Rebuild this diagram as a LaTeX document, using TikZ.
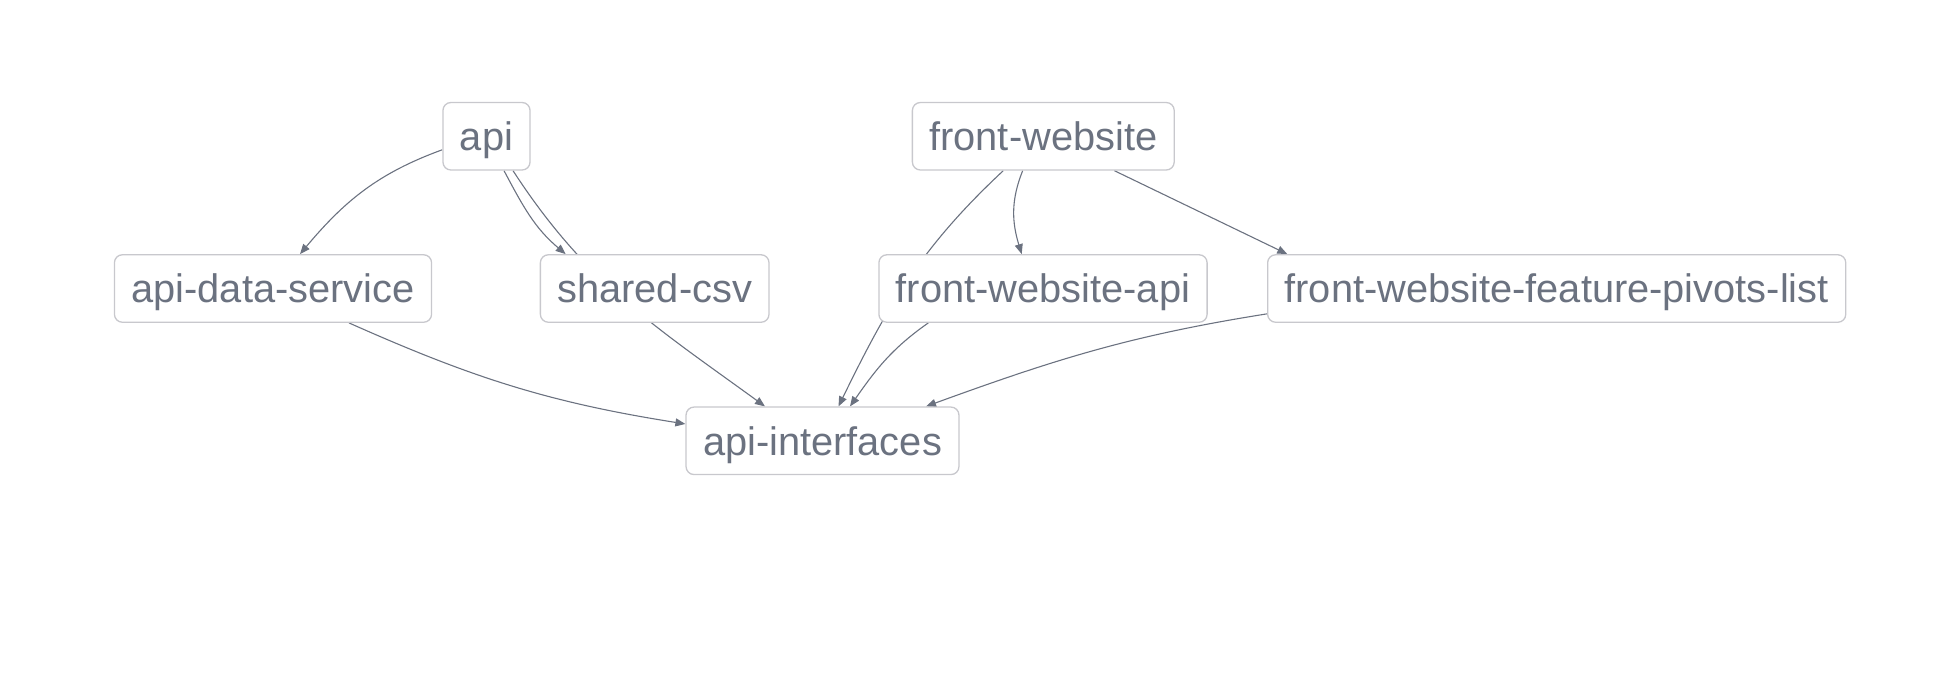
\documentclass[tikz,border=0pt]{standalone}
\usepackage{fontspec}
\setmainfont{Liberation Sans}
\usetikzlibrary{calc,arrows.meta,backgrounds}
\definecolor{texte}{RGB}{107,114,128}
\definecolor{bord}{RGB}{200,200,205}
\definecolor{trait}{RGB}{107,114,128}

\begin{document}
\begin{tikzpicture}[x=0.5pt,y=-0.5pt]
  \tikzstyle{module}=[draw=bord, line width=0.65pt, rounded corners=4pt, fill=white, text=texte, font=\fontsize{19.9pt}{24pt}\selectfont, minimum height=33.75pt, inner xsep=8.5pt, inner ysep=0pt, text height=16pt, text depth=1.8pt];
  \tikzstyle{lien}=[draw=trait, line width=0.55pt, -{Triangle[length=5pt,width=4pt]}];

  \useasboundingbox (0,0) rectangle (1934,698);

  \node[module] (api) at (486.5,136.25) {api};
  \node[module] (front) at (1043.3,136.25) {front-website};
  \node[module] (data) at (273,288.5) {api-data-service};
  \node[module] (csv) at (654.7,288.5) {shared-csv};
  \node[module] (frontapi) at (1043,288.5) {front-website-api};
  \node[module] (pivots) at (1556.7,288.5) {front-website-feature-pivots-list};
  \node[module] (interfaces) at (822.5,440.8) {api-interfaces};

  % les liens passent sous les boites
  \begin{scope}[on background layer]
    \draw[lien] (api.197) to[out=200,in=50] ($(data.north)+(27,0)$);
    \draw[lien] ($(api.south)+(17.5,0)$) to[out=-62,in=140] ($(csv.north)+(-89,0)$);
    \draw[lien] ($(api.south)+(26.5,0)$) to[out=-57,in=144] ($(interfaces.north)+(-57.5,0)$);
    \draw[lien] ($(data.south)+(76,0)$) to[out=-24,in=171] (interfaces.173);
    \draw[lien] ($(front.south)+(-20.6,0)$) to[out=-112,in=107] ($(frontapi.north)+(-21.3,0)$);
    \draw[lien] ($(front.south)+(71,0)$) -- ($(pivots.north)+(-269.4,0)$);
    \draw[lien] ($(front.south)+(-40,0)$) to[out=-137,in=64] ($(interfaces.north)+(16,0)$);
    \draw[lien] ($(frontapi.south)+(-114.7,0)$) to[out=-145,in=55] ($(interfaces.north)+(27.5,0)$);
    \draw[lien] (pivots.185) to[out=189,in=20] ($(interfaces.north)+(103.5,0)$);
  \end{scope}
\end{tikzpicture}
\end{document}
